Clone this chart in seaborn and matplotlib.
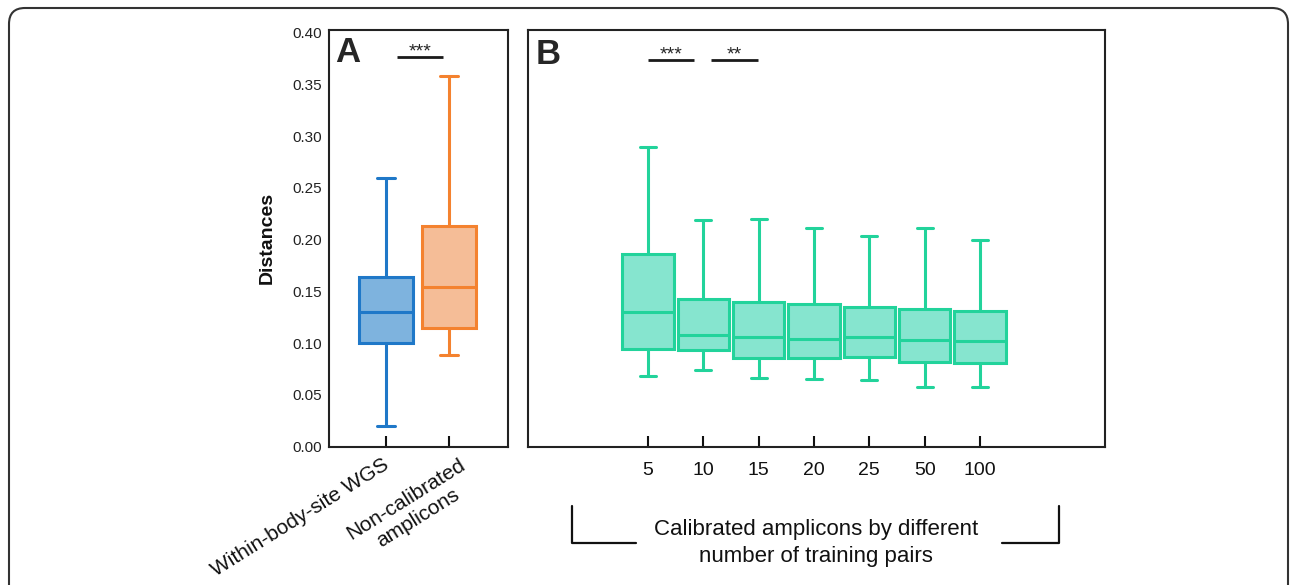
import numpy as np
import pandas as pd
import matplotlib
matplotlib.use("Agg")
import matplotlib.pyplot as plt
import matplotlib.transforms as mtransforms
import seaborn as sns
from matplotlib.lines import Line2D
from matplotlib.patches import FancyBboxPatch

# ---------------- data (five-number summaries) ----------------
a_categories = ["Within-body-site WGS", "Non-calibrated\namplicons"]
a_low = [0.020, 0.089]
a_q1 = [0.100, 0.115]
a_med = [0.130, 0.154]
a_q3 = [0.164, 0.2135]
a_high = [0.260, 0.358]

b_categories = ["5", "10", "15", "20", "25", "50", "100"]
b_low = [0.068, 0.074, 0.066, 0.065, 0.064, 0.058, 0.058]
b_q1 = [0.094, 0.093, 0.086, 0.086, 0.087, 0.0815, 0.081]
b_med = [0.130, 0.108, 0.106, 0.104, 0.106, 0.103, 0.102]
b_q3 = [0.186, 0.143, 0.140, 0.1375, 0.135, 0.133, 0.131]
b_high = [0.290, 0.219, 0.220, 0.211, 0.204, 0.211, 0.200]

y_ticks = [0.00, 0.05, 0.10, 0.15, 0.20, 0.25, 0.30, 0.35, 0.40]

a_fill = ["#7eb3de", "#f5bd97"]
a_edge = ["#1f78c8", "#f4822f"]
b_fill = "#86e5cf"
b_edge = "#22d39b"


def long_frame(cats, *cols):
    rows = []
    for i, c in enumerate(cats):
        for col in cols:
            rows.append({"group": c, "value": col[i]})
    return pd.DataFrame(rows)


df_a = long_frame(a_categories, a_low, a_q1, a_med, a_q3, a_high)
df_b = long_frame(b_categories, b_low, b_q1, b_med, b_q3, b_high)

# ---------------- style ----------------
sns.set_theme(style="white")
plt.rcParams["font.family"] = ["Liberation Sans", "DejaVu Sans"]

W, H = 1292, 585
fig = plt.figure(figsize=(W / 100, H / 100), dpi=100)


def fx(px):
    return px / W


def fy(py):
    return 1 - py / H


y_bot, y_top = 446.7, 30.0
ax_a = fig.add_axes([fx(329), fy(y_bot), fx(508 - 329), (y_bot - y_top) / H])
ax_b = fig.add_axes([fx(528), fy(y_bot), fx(1105 - 528), (y_bot - y_top) / H])

ylim = (0, 0.4 + (32.7 - y_top) / 1035)

lw = 2.2
for i, cat in enumerate(a_categories):
    sns.boxplot(data=df_a[df_a["group"] == cat], x="group", y="value",
                order=a_categories, color=a_fill[i], linecolor=a_edge[i],
                saturation=1, width=0.857, linewidth=lw, whis=(0, 100),
                fliersize=0, capwidths=0.29, ax=ax_a)

sns.boxplot(data=df_b, x="group", y="value", order=b_categories,
            color=b_fill, linecolor=b_edge, saturation=1, width=0.93,
            linewidth=lw, whis=(0, 100), fliersize=0, capwidths=0.29, ax=ax_b)

for ax in (ax_a, ax_b):
    ax.set_ylim(*ylim)
    ax.set_xlabel("")
    ax.set_ylabel("")
    for sp in ax.spines.values():
        sp.set_visible(True)
        sp.set_color("#222222")
        sp.set_linewidth(1.5)
    ax.tick_params(axis="x", direction="in", length=8, width=1.5,
                   color="#111111", bottom=True)

ax_a.set_xlim(-0.905, 1.937)
ax_b.set_xlim(-2.17, 8.26)

# panel A axis
ax_a.set_yticks(y_ticks)
ax_a.set_yticklabels([f"{v:.2f}" for v in y_ticks])
ax_a.tick_params(axis="y", left=False, length=0, pad=5, labelsize=11,
                 labelcolor="#222222")
ax_a.set_ylabel("Distances", fontsize=14, fontweight="bold", labelpad=12,
                color="#111111")
ax_a.set_xticks(range(len(a_categories)))
ax_a.set_xticklabels(a_categories, rotation=32, ha="right", va="top",
                     rotation_mode="anchor", multialignment="center",
                     fontsize=15, color="#111111")
ax_a.tick_params(axis="x", pad=6)
offsets = [-4, 10]
for lab, dx in zip(ax_a.get_xticklabels(), offsets):
    lab.set_transform(lab.get_transform() +
                      mtransforms.ScaledTranslation(dx / 100, 0, fig.dpi_scale_trans))

# panel B axis
ax_b.set_yticks(y_ticks)
ax_b.tick_params(axis="y", left=False, labelleft=False)
ax_b.set_xticks(range(len(b_categories)))
ax_b.set_xticklabels(b_categories, fontsize=14, color="#111111")
ax_b.tick_params(axis="x", pad=11)

# panel letters
ax_a.text(0.035, 0.985, "A", transform=ax_a.transAxes, ha="left", va="top",
          fontsize=25, fontweight="bold")
ax_b.text(0.014, 0.98, "B", transform=ax_b.transAxes, ha="left", va="top",
          fontsize=25, fontweight="bold")

# significance bars
sig_y_a = 0.3765
ax_a.plot([0.175, 0.905], [sig_y_a, sig_y_a], color="k", lw=2, solid_capstyle="butt")
ax_a.text(0.54, 0.3772, "***", ha="center", va="baseline", fontsize=14)

sig_y_b = 0.3736
ax_b.plot([0.0, 0.83], [sig_y_b, sig_y_b], color="k", lw=2, solid_capstyle="butt")
ax_b.text(0.415, 0.3745, "***", ha="center", va="baseline", fontsize=14)
ax_b.plot([1.14, 1.99], [sig_y_b, sig_y_b], color="k", lw=2, solid_capstyle="butt")
ax_b.text(1.565, 0.3745, "**", ha="center", va="baseline", fontsize=14)

# bracket below panel B
br_kw = dict(transform=fig.transFigure, color="#111111", lw=1.6)
fig.add_artist(Line2D([fx(572), fx(572), fx(636)], [fy(506), fy(543), fy(543)], **br_kw))
fig.add_artist(Line2D([fx(1002), fx(1059), fx(1059)], [fy(543), fy(543), fy(506)], **br_kw))
fig.text(fx(816), fy(543), "Calibrated amplicons by different\nnumber of training pairs",
         ha="center", va="center", fontsize=16, color="#111111", linespacing=1.35)

# outer rounded frame
frame = FancyBboxPatch((9, -60), 1279, H - 8 + 60,
                       boxstyle="round,pad=0,rounding_size=16",
                       transform=None, fill=False, lw=1.5, ec="#333333")
fig.add_artist(frame)

fig.savefig("out.png", dpi=100)
